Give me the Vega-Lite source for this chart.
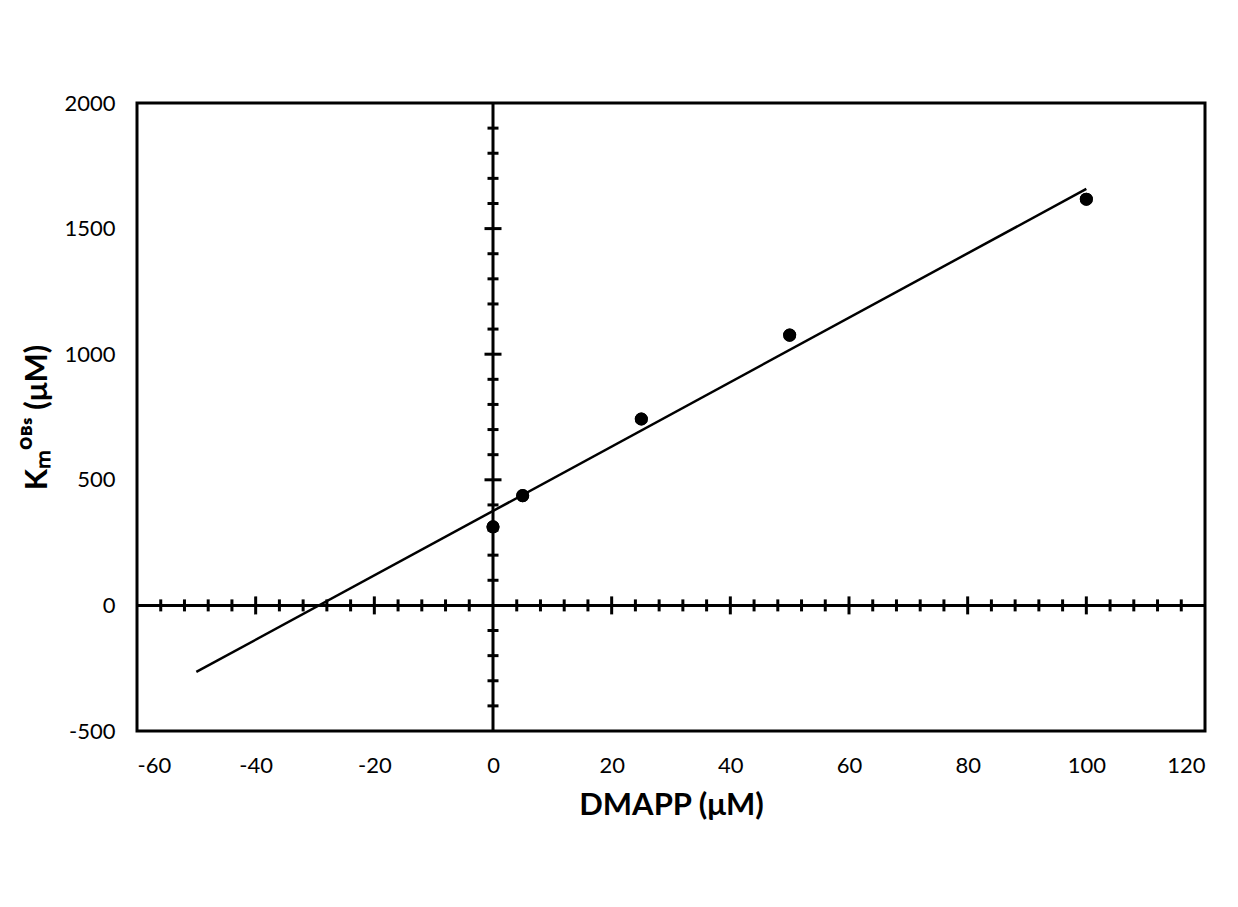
{
  "$schema": "https://vega.github.io/schema/vega-lite/v6.json",
  "width": 1068,
  "height": 628,
  "autosize": "none",
  "padding": {"left": 137, "top": 103, "right": 33, "bottom": 176},
  "background": "white",
  "config": {
    "view": {"stroke": "black", "strokeWidth": 3},
    "axis": {
      "labelFont": "Lato",
      "labelFontSize": 22,
      "labelColor": "black",
      "titleFont": "Lato",
      "titleFontSize": 31,
      "titleFontWeight": "bold",
      "titleColor": "black",
      "domain": false,
      "ticks": false,
      "tickSize": 0,
      "grid": false
    }
  },
  "datasets": {
    "points": [
      {"x": 0, "y": 313},
      {"x": 5, "y": 437},
      {"x": 25, "y": 742},
      {"x": 50, "y": 1076},
      {"x": 100, "y": 1617}
    ],
    "fit": [
      {"x": -50, "y": -265},
      {"x": 100, "y": 1658}
    ],
    "vAxis": [
      {"x": 0, "y": -500, "y2": 2000}
    ],
    "hAxis": [
      {"y": 0, "x": -60, "x2": 120}
    ],
    "xMinor": [
      {"x": -56}, {"x": -52}, {"x": -48}, {"x": -44},
      {"x": -36}, {"x": -32}, {"x": -28}, {"x": -24},
      {"x": -16}, {"x": -12}, {"x": -8}, {"x": -4},
      {"x": 4}, {"x": 8}, {"x": 12}, {"x": 16},
      {"x": 24}, {"x": 28}, {"x": 32}, {"x": 36},
      {"x": 44}, {"x": 48}, {"x": 52}, {"x": 56},
      {"x": 64}, {"x": 68}, {"x": 72}, {"x": 76},
      {"x": 84}, {"x": 88}, {"x": 92}, {"x": 96},
      {"x": 104}, {"x": 108}, {"x": 112}, {"x": 116}
    ],
    "xMajor": [
      {"x": -40}, {"x": -20}, {"x": 20}, {"x": 40}, {"x": 60}, {"x": 80}, {"x": 100}
    ],
    "yMinor": [
      {"y": -400}, {"y": -300}, {"y": -200}, {"y": -100},
      {"y": 100}, {"y": 200}, {"y": 300}, {"y": 400},
      {"y": 600}, {"y": 700}, {"y": 800}, {"y": 900},
      {"y": 1100}, {"y": 1200}, {"y": 1300}, {"y": 1400},
      {"y": 1600}, {"y": 1700}, {"y": 1800}, {"y": 1900}
    ],
    "yMajor": [
      {"y": 500}, {"y": 1000}, {"y": 1500}
    ]
  },
  "layer": [
    {
      "data": {"name": "points"},
      "mark": {"type": "point", "filled": true, "color": "black", "size": 170, "opacity": 1},
      "encoding": {
        "x": {
          "field": "x",
          "type": "quantitative",
          "scale": {"domain": [-60, 120], "nice": false, "zero": false},
          "axis": {
            "title": "DMAPP (μM)",
            "values": [-60, -40, -20, 0, 20, 40, 60, 80, 100, 120],
            "labelExpr": "'' + datum.value",
            "labelPadding": 24,
            "titlePadding": 14
          }
        },
        "y": {
          "field": "y",
          "type": "quantitative",
          "scale": {"domain": [-500, 2000], "nice": false, "zero": false},
          "axis": {
            "title": "Kₘᴼᴮˢ (μM)",
            "values": [-500, 0, 500, 1000, 1500, 2000],
            "labelExpr": "'' + datum.value",
            "labelPadding": 22,
            "titlePadding": 10
          }
        }
      }
    },
    {
      "data": {"name": "vAxis"},
      "mark": {"type": "rule", "color": "black", "strokeWidth": 3},
      "encoding": {
        "x": {"field": "x", "type": "quantitative"},
        "y": {"field": "y", "type": "quantitative"},
        "y2": {"field": "y2"}
      }
    },
    {
      "data": {"name": "hAxis"},
      "mark": {"type": "rule", "color": "black", "strokeWidth": 3},
      "encoding": {
        "y": {"field": "y", "type": "quantitative"},
        "x": {"field": "x", "type": "quantitative"},
        "x2": {"field": "x2"}
      }
    },
    {
      "data": {"name": "xMinor"},
      "mark": {"type": "tick", "orient": "vertical", "color": "black", "thickness": 3, "size": 12, "opacity": 1},
      "encoding": {
        "x": {"field": "x", "type": "quantitative"},
        "y": {"datum": 0, "type": "quantitative"}
      }
    },
    {
      "data": {"name": "xMajor"},
      "mark": {"type": "tick", "orient": "vertical", "color": "black", "thickness": 3, "size": 18, "opacity": 1},
      "encoding": {
        "x": {"field": "x", "type": "quantitative"},
        "y": {"datum": 0, "type": "quantitative"}
      }
    },
    {
      "data": {"name": "yMinor"},
      "mark": {"type": "tick", "orient": "horizontal", "color": "black", "thickness": 3, "size": 11, "opacity": 1},
      "encoding": {
        "y": {"field": "y", "type": "quantitative"},
        "x": {"datum": 0, "type": "quantitative"}
      }
    },
    {
      "data": {"name": "yMajor"},
      "mark": {"type": "tick", "orient": "horizontal", "color": "black", "thickness": 3, "size": 17, "opacity": 1},
      "encoding": {
        "y": {"field": "y", "type": "quantitative"},
        "x": {"datum": 0, "type": "quantitative"}
      }
    },
    {
      "data": {"name": "fit"},
      "mark": {"type": "line", "color": "black", "strokeWidth": 2.5},
      "encoding": {
        "x": {"field": "x", "type": "quantitative"},
        "y": {"field": "y", "type": "quantitative"}
      }
    },
    {
      "data": {"name": "points"},
      "mark": {"type": "point", "filled": true, "color": "black", "size": 170, "opacity": 1},
      "encoding": {
        "x": {"field": "x", "type": "quantitative"},
        "y": {"field": "y", "type": "quantitative"}
      }
    }
  ]
}
